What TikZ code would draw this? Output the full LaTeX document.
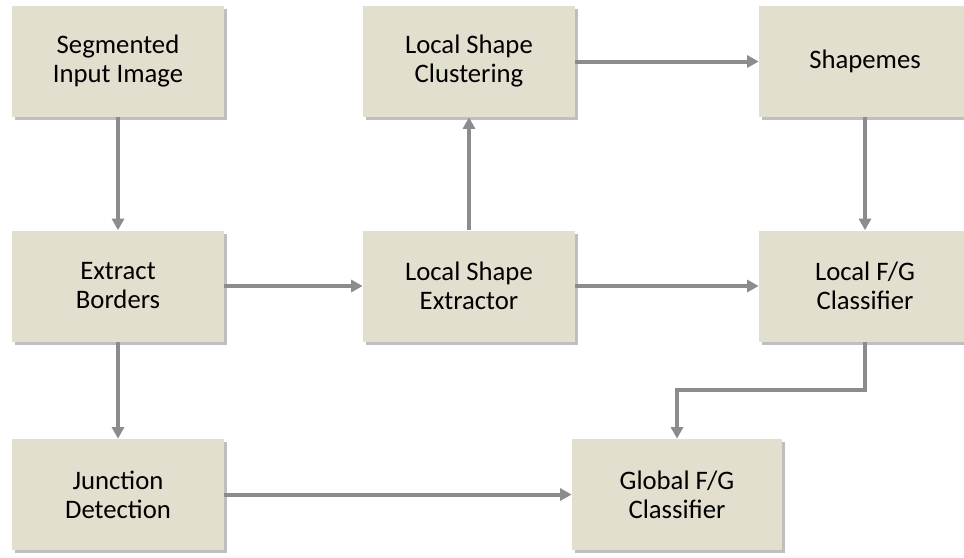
\documentclass[tikz,border=0pt]{standalone}
\usepackage{fontspec}
\setmainfont{Carlito}
\usepackage{xcolor}
\usetikzlibrary{arrows.meta, positioning, calc, shadows}
\definecolor{boxfill}{HTML}{E2DFCF}
\definecolor{linkgray}{HTML}{8C8C8C}
\tikzset{
	block/.style={rectangle, fill=boxfill, minimum width=4.24cm, minimum height=2.22cm, align=center,
		font=\fontsize{15.2}{16.5}\selectfont,
		drop shadow={shadow xshift=0.05cm, shadow yshift=-0.06cm, fill=black, opacity=0.25}},
	line/.style={draw=linkgray, line width=0.08cm, -{Triangle[length=2.3mm, width=2.4mm]}}
}

\begin{document}
\begin{tikzpicture}
		\useasboundingbox (0,0) rectangle (19.28,-11.14);
		
		% --- Left Column ---
		\node[block] (segimg) at (2.36,-1.23) {Segmented\\Input Image};
		\node[block] (borders) at (2.36,-5.72) {Extract\\Borders};
		\node[block] (junction) at (2.36,-9.89) {Junction\\Detection};
		
		% --- Middle Column ---
		\node[block] (clustering) at (9.38,-1.23) {Local Shape\\Clustering};
		\node[block] (extractor) at (9.38,-5.72) {Local Shape\\Extractor};
		
		% --- Right Column ---
		\node[block] (shapemes) at (17.30,-1.23) {Shapemes};
		\node[block] (localfg) at (17.30,-5.72) {Local F/G\\Classifier};
		\node[block, minimum width=4.2cm] (globalfg) at (13.54,-9.89) {Global F/G\\Classifier};
		
		% --- Connections ---
		\draw[line] (segimg) -- (borders);
		\draw[line] (borders) -- (junction);
		\draw[line] (borders) -- (extractor);
		\draw[line] (extractor) -- (clustering);
		\draw[line] (clustering) -- (shapemes);
		\draw[line] (shapemes) -- (localfg);
		\draw[line] (extractor) -- (localfg);
		\draw[line] (junction) -- (globalfg);
		% Local result goes down, over and into the global classifier
		\draw[line] (localfg.south) -- ++(0,-0.96) -| (globalfg.north);
		
\end{tikzpicture}
\end{document}
